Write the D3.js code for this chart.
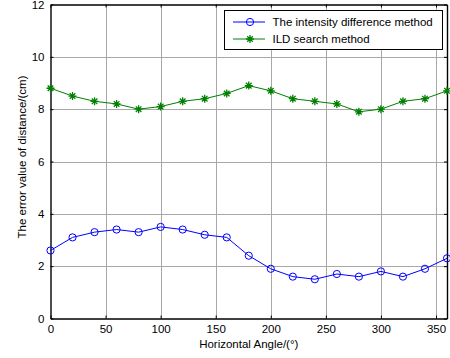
<!DOCTYPE html>
<html>
<head>
<meta charset="utf-8">
<script src="https://cdn.jsdelivr.net/npm/d3@7"></script>
<style>
  body { margin: 0; background: #fff; }
  text { font-family: Arial, "Liberation Sans", sans-serif; font-size: 11.5px; fill: #000; }
</style>
</head>
<body>
<div id="chart"></div>
<script>
// horizontal angle, every 20 degrees
var angles = [0, 20, 40, 60, 80, 100, 120, 140, 160, 180, 200, 220, 240, 260, 280, 300, 320, 340, 360];
var intensityDiff = [2.6, 3.1, 3.3, 3.4, 3.3, 3.5, 3.4, 3.2, 3.1, 2.4, 1.9, 1.6, 1.5, 1.7, 1.6, 1.8, 1.6, 1.9, 2.3];
var ildSearch = [8.8, 8.5, 8.3, 8.2, 8.0, 8.1, 8.3, 8.4, 8.6, 8.9, 8.7, 8.4, 8.3, 8.2, 7.9, 8.0, 8.3, 8.4, 8.7];
var xTicks = [0, 50, 100, 150, 200, 250, 300, 350];
var yTicks = [0, 2, 4, 6, 8, 10, 12];
var seriesNames = ["The intensity difference method", "ILD search method"];

var width = 450, height = 358;
var pLeft = 50.5, pRight = 447, pTop = 4.5, pBottom = 318.5;

var svg = d3.select('#chart').append('svg')
    .attr('width', width)
    .attr('height', height);

var x = d3.scaleLinear().domain([0, 360]).range([pLeft, pRight]);
var y = d3.scaleLinear().domain([0, 12]).range([pBottom, pTop]);

// grid
var grid = svg.append('g').attr('stroke', '#a8a8a8').attr('stroke-width', 1);
grid.selectAll('.gx').data(xTicks.filter(function(d) { return d > 0; }))
    .enter().append('line')
    .attr('x1', function(d) { return Math.round(x(d)) + 0.5; })
    .attr('x2', function(d) { return Math.round(x(d)) + 0.5; })
    .attr('y1', pTop).attr('y2', pBottom);
grid.selectAll('.gy').data(yTicks.filter(function(d) { return d > 0 && d < 12; }))
    .enter().append('line')
    .attr('y1', function(d) { return Math.round(y(d)) + 0.5; })
    .attr('y2', function(d) { return Math.round(y(d)) + 0.5; })
    .attr('x1', pLeft).attr('x2', pRight);

// axes (ticks pointing inward like matlab)
svg.append('g').attr('transform', 'translate(0,' + pBottom + ')')
    .call(d3.axisBottom(x).tickValues(xTicks).tickSizeInner(-3).tickSizeOuter(0).tickPadding(6));
svg.append('g').attr('transform', 'translate(0,' + pTop + ')')
    .call(d3.axisTop(x).tickValues(xTicks).tickSizeInner(-3).tickSizeOuter(0).tickFormat(''));
svg.append('g').attr('transform', 'translate(' + pLeft + ',0)')
    .call(d3.axisLeft(y).tickValues(yTicks).tickSizeInner(-3).tickSizeOuter(0).tickPadding(6));
svg.append('g').attr('transform', 'translate(' + pRight + ',0)')
    .call(d3.axisRight(y).tickValues(yTicks).tickSizeInner(-3).tickSizeOuter(0).tickFormat(''));

svg.selectAll('.domain').attr('stroke', '#000').attr('stroke-width', 1.4);
svg.selectAll('.tick line').attr('stroke', '#000');
svg.selectAll('.tick text').style('font-size', '11.5px').style('font-family', 'Arial, "Liberation Sans", sans-serif');

// series
var line = d3.line()
    .x(function(d) { return x(d[0]); })
    .y(function(d) { return y(d[1]); });

var blueData = angles.map(function(a, i) { return [a, intensityDiff[i]]; });
var greenData = angles.map(function(a, i) { return [a, ildSearch[i]]; });

svg.append('path').datum(blueData)
    .attr('d', line).attr('fill', 'none').attr('stroke', '#0000ff').attr('stroke-width', 1);
svg.selectAll('.bdot').data(blueData).enter().append('circle')
    .attr('cx', function(d) { return x(d[0]); })
    .attr('cy', function(d) { return y(d[1]); })
    .attr('r', 3.6).attr('fill', 'none').attr('stroke', '#0000ff').attr('stroke-width', 1);

svg.append('path').datum(greenData)
    .attr('d', line).attr('fill', 'none').attr('stroke', '#008000').attr('stroke-width', 1);

function drawStar(g) {
    // star made of a + and an x
    g.append('path').attr('d', 'M-4,0H4M0,-4V4M-2.8,-2.8L2.8,2.8M-2.8,2.8L2.8,-2.8')
        .attr('stroke', '#008000').attr('stroke-width', 1.3).attr('fill', 'none');
}
svg.selectAll('.gdot').data(greenData).enter().append('g')
    .attr('transform', function(d) { return 'translate(' + x(d[0]) + ',' + y(d[1]) + ')'; })
    .call(drawStar);

// labels
svg.append('text')
    .attr('x', (pLeft + pRight) / 2).attr('y', 348)
    .attr('text-anchor', 'middle')
    .text('Horizontal Angle/(°)');
svg.append('text')
    .attr('transform', 'translate(26,157) rotate(-90)')
    .attr('text-anchor', 'middle')
    .text('The error value of distance/(cm)');

// legend
var lg = svg.append('g');
lg.append('rect').attr('x', 224.5).attr('y', 10.5).attr('width', 218).attr('height', 39)
    .attr('fill', '#fff').attr('stroke', '#000').attr('stroke-width', 1);
lg.append('line').attr('x1', 233).attr('x2', 265).attr('y1', 22).attr('y2', 22).attr('stroke', '#0000ff');
lg.append('circle').attr('cx', 250).attr('cy', 22).attr('r', 3.6).attr('fill', 'none').attr('stroke', '#0000ff');
lg.append('line').attr('x1', 233).attr('x2', 265).attr('y1', 39).attr('y2', 39).attr('stroke', '#008000');
lg.append('g').attr('transform', 'translate(250,39)').call(drawStar);
lg.selectAll('.lt').data(seriesNames).enter().append('text')
    .attr('x', 272.5)
    .attr('y', function(d, i) { return 26 + i * 17; })
    .text(function(d) { return d; });
</script>
</body>
</html>
